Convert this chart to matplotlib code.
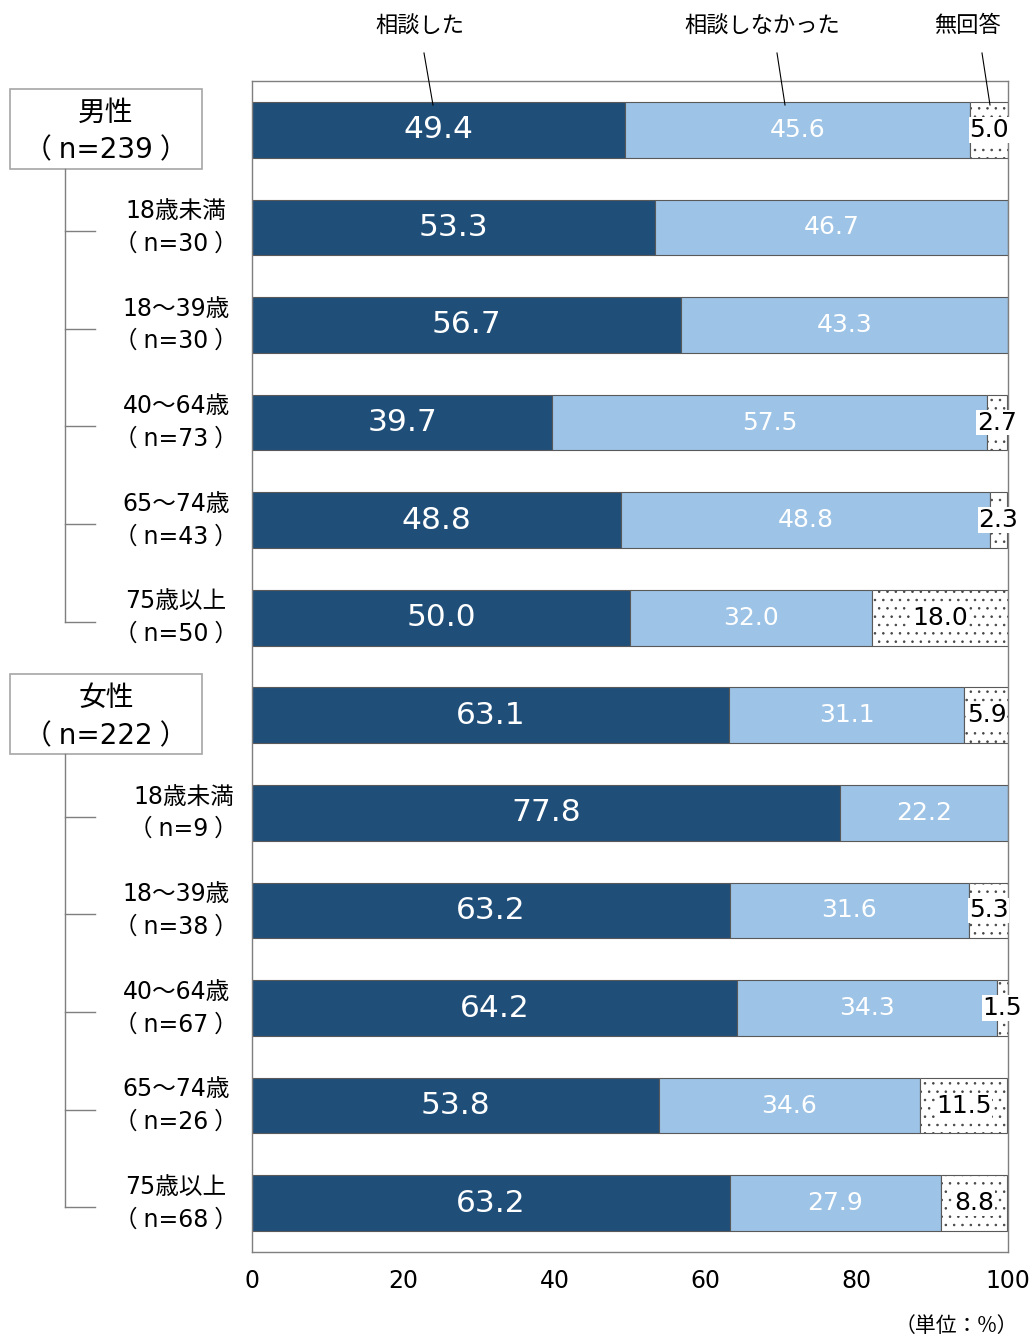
import matplotlib.pyplot as plt
import matplotlib.transforms as mtransforms
from matplotlib.lines import Line2D
from matplotlib.patches import Rectangle

plt.rcParams['font.family'] = ['Noto Sans CJK JP', 'DejaVu Sans']
plt.rcParams['hatch.linewidth'] = 0.6
num_font = ['DejaVu Sans', 'Noto Sans CJK JP']  # 数字は幅広のフォントで

# データ
categories = ['男性', '18歳未満', '18～39歳', '40～64歳', '65～74歳', '75歳以上',
              '女性', '18歳未満', '18～39歳', '40～64歳', '65～74歳', '75歳以上']
n_values = [239, 30, 30, 73, 43, 50, 222, 9, 38, 67, 26, 68]
consulted = [49.4, 53.3, 56.7, 39.7, 48.8, 50.0, 63.1, 77.8, 63.2, 64.2, 53.8, 63.2]
not_consulted = [45.6, 46.7, 43.3, 57.5, 48.8, 32.0, 31.1, 22.2, 31.6, 34.3, 34.6, 27.9]
no_answer = [5.0, 0, 0, 2.7, 2.3, 18.0, 5.9, 0, 5.3, 1.5, 11.5, 8.8]
series_names = ['相談した', '相談しなかった', '無回答']
x_ticks = [0, 20, 40, 60, 80, 100]

W, H = 1032, 1339
fig = plt.figure(figsize=(W / 100, H / 100), dpi=100)
ax = fig.add_axes([252 / W, 1 - 1252 / H, 756 / W, 1171 / H])

dark = '#1f4e79'
light = '#9dc3e6'
edge = '#595959'
rows = list(range(len(categories)))
bh = 0.57

ax.barh(rows, consulted, height=bh, color=dark, edgecolor=edge, linewidth=0.8)
ax.barh(rows, not_consulted, left=consulted, height=bh, color=light, edgecolor=edge, linewidth=0.8)
left3 = [a + b for a, b in zip(consulted, not_consulted)]
for i in rows:
    if no_answer[i] > 0:
        ax.barh(i, no_answer[i], left=left3[i], height=bh, color='white',
                edgecolor='#444444', hatch='..', linewidth=0)
        ax.barh(i, no_answer[i], left=left3[i], height=bh, color='none',
                edgecolor=edge, linewidth=0.8)

# 値ラベル
for i in rows:
    ax.text(consulted[i] / 2, i, f'{consulted[i]:.1f}', color='white',
            ha='center', va='center', fontsize=22.5, family=num_font)
    ax.text(consulted[i] + not_consulted[i] / 2, i, f'{not_consulted[i]:.1f}',
            color='white', ha='center', va='center', fontsize=18, family=num_font)
    if no_answer[i] > 0:
        ax.text(left3[i] + no_answer[i] / 2, i, f'{no_answer[i]:.1f}', color='black',
                ha='center', va='center', fontsize=18, family=num_font,
                bbox=dict(facecolor='white', edgecolor='none', pad=0.5))

ax.set_xlim(0, 100)
ax.set_ylim(len(categories) - 0.5, -0.5)
ax.set_xticks(x_ticks)
ax.set_xticklabels([str(t) for t in x_ticks], fontsize=17, family=num_font)
ax.tick_params(axis='x', length=0, pad=12)
ax.set_yticks([])
for s in ax.spines.values():
    s.set_color('#7f7f7f')
    s.set_linewidth(1.0)

# 左側の項目ラベル
sp = '\u2005'
trans = mtransforms.blended_transform_factory(fig.transFigure, ax.transData)
groups = [0, 6]
for g in groups:
    # グループの枠
    fig.add_artist(Rectangle((10 / W, g - 0.42), 192 / W, 0.82, transform=trans,
                             facecolor='white', edgecolor='#a6a6a6', linewidth=1.2))
    fig.text(106 / W, g + 0.02, f'{categories[g]}\n（{sp}n={n_values[g]}{sp}）', transform=trans,
             ha='center', va='center', fontsize=20, linespacing=1.45, family=num_font)
    fig.add_artist(Line2D([65 / W, 65 / W], [g + 0.4, g + 5.04], transform=trans,
                          color='#7f7f7f', linewidth=1))
    for k in range(1, 6):
        fig.add_artist(Line2D([65 / W, 95 / W], [g + k + 0.04, g + k + 0.04], transform=trans,
                              color='#7f7f7f', linewidth=1))
        fig.text(238 / W, g + k, f'{categories[g + k]}\n（{sp}n={n_values[g + k]}{sp}）',
                 transform=trans, ha='right', va='center', multialignment='center',
                 fontsize=17, linespacing=1.45, family=num_font)

# 凡例(引き出し線)
legend_pos = [(420, 424, 433), (762, 777, 785), (967, 982, 990)]
for name, (tx, x0, x1) in zip(series_names, legend_pos):
    fig.text(tx / W, 1 - 26 / H, name, ha='center', va='center', fontsize=16)
    fig.add_artist(Line2D([x0 / W, x1 / W], [1 - 53 / H, 1 - 105 / H], color='black', linewidth=0.8))

fig.text(1018 / W, 1 - 1326 / H, '（単位：%）', ha='right', va='center', fontsize=15)

fig.savefig('out.png', dpi=100)
